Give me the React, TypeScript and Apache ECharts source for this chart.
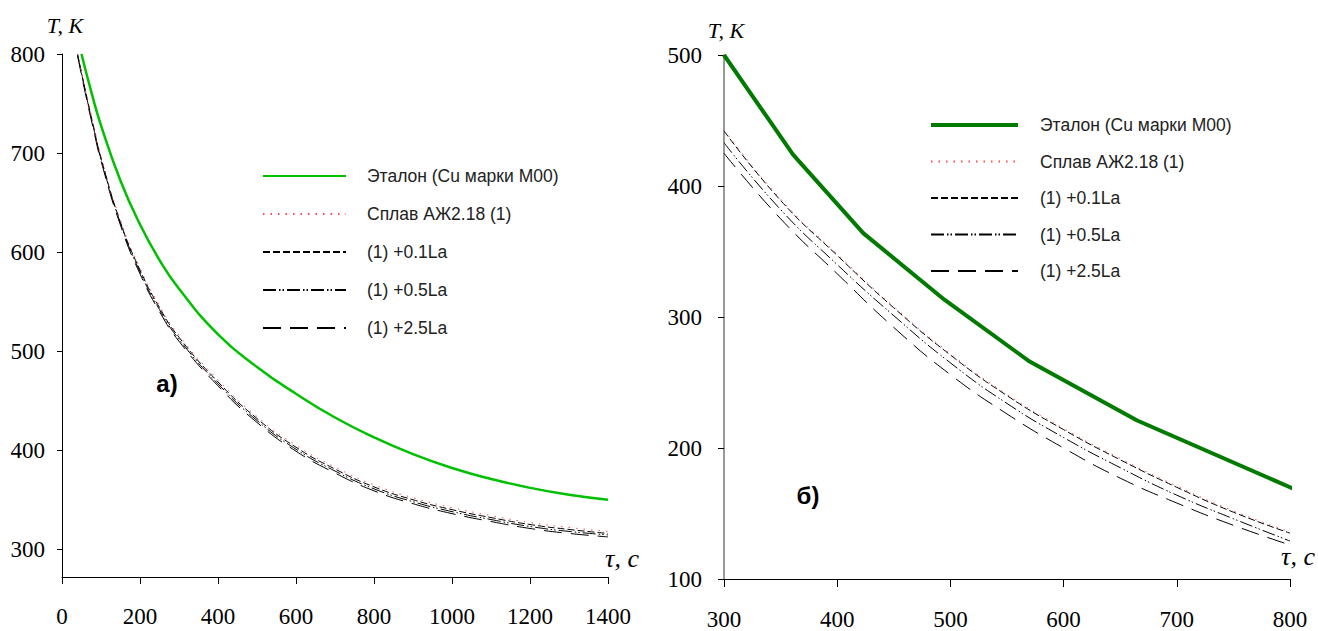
import React, { useEffect, useRef } from "react";
import * as echarts from "echarts";

// ---- names ----
const seriesNames = [
  "Эталон (Cu марки М00)",
  "Сплав АЖ2.18 (1)",
  "(1) +0.1La",
  "(1) +0.5La",
  "(1) +2.5La",
];

// ---- chart а) ----
const tauEtalonA = [50, 75, 100, 150, 200, 250, 300, 400, 500, 600, 700, 800, 900, 1000, 1100, 1200, 1300, 1400];
const etalonA = [800, 762, 728, 672, 628, 592, 563, 517, 484, 457, 433, 413, 396, 382, 371, 362, 355, 350];

const tauAlloyA = [40, 60, 80, 100, 150, 200, 250, 300, 400, 500, 600, 700, 800, 900, 1000, 1100, 1200, 1300, 1400];
const splavA = [800, 764, 730, 697, 632, 584, 546, 516, 471, 434, 405, 383, 365, 352, 342, 334, 327, 322, 318];
const la01A = [799, 763, 728, 695, 630, 582, 544, 514, 469, 432, 403, 381, 363, 350, 340, 332, 325, 320, 316];
const la05A = [800, 762, 727, 694, 629, 580, 542, 512, 467, 430, 401, 379, 361, 348, 338, 330, 323, 318, 314.5];
const la25A = [798, 760, 725, 692, 627, 578, 540, 510, 465, 428, 399, 377, 359, 346, 336, 328, 321, 316, 312.5];

const yTicksA = [300, 400, 500, 600, 700, 800];

// ---- chart б) ----
const tauEtalonB = [300, 361, 423, 495, 570, 665, 808];
const etalonB = [500, 424, 364, 313, 266, 221, 167];

const tauAlloyB = [300, 350, 400, 450, 500, 550, 600, 650, 700, 750, 800];
const splavB = [443, 390, 348, 308, 272, 241, 215, 192, 171, 152, 136];
const la01B = [442, 389, 347, 307, 271, 240, 214, 191, 170, 151, 135];
const la05B = [433, 382, 340, 301, 265, 234, 208, 185, 164, 146, 129];
const la25B = [425, 375, 333, 292, 256, 226, 200, 177, 158, 141, 126];

const pairs = (xs: number[], ys: number[]) => xs.map((x, i) => [x, ys[i]]);

const TICK_FONT = '"Liberation Serif", serif';
const LEG_FONT = '"Liberation Sans", sans-serif';

const dashStyles: any[] = [
  null,
  { color: "#ff4d4d", width: 1, type: [1.5, 6] },
  { color: "#000", width: 1, type: [7, 3] },
  { color: "#000", width: 1, type: [13, 3, 1.5, 2, 1.5, 3] },
  { color: "#000", width: 1, type: [18, 9] },
];

export default function App() {
  const ref = useRef<HTMLDivElement>(null);
  useEffect(() => {
    if (!ref.current) return;
    const chart = echarts.init(ref.current, undefined, { renderer: "svg" });

    const axisLineBlack = { show: true, onZero: false, lineStyle: { color: "#000", width: 1 } };
    const labelStyle = {
      fontFamily: TICK_FONT,
      fontSize: 23,
      color: "#000",
      formatter: (v: number) => String(v),
    };

    const mkSeries = (
      idx: number,
      name: string,
      data: number[][],
      lineStyle: any,
      smooth: boolean,
      z: number,
      clip = true
    ) => ({
      type: "line",
      name,
      xAxisIndex: idx,
      yAxisIndex: idx,
      data,
      symbol: "none",
      showSymbol: false,
      smooth,
      lineStyle,
      itemStyle: { color: lineStyle.color },
      z,
      clip,
    });

    const legendCommon = {
      orient: "vertical",
      itemHeight: 14,
      padding: 0,
      selectedMode: false,
      itemStyle: { opacity: 0 },
    };

    const option: any = {
      animation: false,
      backgroundColor: "#fff",
      grid: [
        { left: 62, right: 710, top: 54, bottom: 54 },
        { left: 724, right: 28, top: 55, bottom: 51 },
      ],
      xAxis: [
        {
          type: "value",
          gridIndex: 0,
          min: 0,
          max: 1400,
          interval: 200,
          axisLine: axisLineBlack,
          axisTick: { show: true, length: 7, lineStyle: { color: "#000" } },
          splitLine: { show: false },
          axisLabel: { ...labelStyle, margin: 28 },
        },
        {
          type: "value",
          gridIndex: 1,
          min: 300,
          max: 800,
          interval: 100,
          axisLine: axisLineBlack,
          axisTick: { show: true, length: 8, lineStyle: { color: "#000" } },
          splitLine: { show: false },
          axisLabel: { ...labelStyle, margin: 29 },
        },
      ],
      yAxis: [
        {
          type: "value",
          gridIndex: 0,
          min: 272,
          max: 800,
          axisLine: axisLineBlack,
          axisTick: { show: true, length: 5, customValues: yTicksA, lineStyle: { color: "#000" } },
          splitLine: { show: false },
          axisLabel: { ...labelStyle, margin: 17, customValues: yTicksA },
        },
        {
          type: "value",
          gridIndex: 1,
          min: 100,
          max: 500,
          interval: 100,
          axisLine: { show: true, onZero: false, lineStyle: { color: "#777", width: 1.5 } },
          axisTick: { show: true, length: 6, lineStyle: { color: "#000" } },
          splitLine: { show: false },
          axisLabel: { ...labelStyle, margin: 22 },
        },
      ],
      legend: [
        {
          ...legendCommon,
          left: 262,
          top: 167,
          itemWidth: 83,
          itemGap: 20,
          textStyle: { fontFamily: LEG_FONT, fontSize: 17.5, color: "#222", padding: [0, 0, 0, 16] },
          data: seriesNames.map((n) => ({ name: n })),
        },
        {
          ...legendCommon,
          left: 929,
          top: 116,
          itemWidth: 87,
          itemGap: 18.5,
          textStyle: { fontFamily: LEG_FONT, fontSize: 17.5, color: "#222", padding: [0, 0, 0, 17] },
          data: seriesNames.map((n, i) =>
            i === 0
              ? { name: n, lineStyle: { color: "#007a00", width: 4 }, itemStyle: { color: "#007a00", opacity: 0 } }
              : { name: n }
          ),
        },
      ],
      series: [
        mkSeries(0, seriesNames[0], pairs(tauEtalonA, etalonA), { color: "#00c000", width: 2.5 }, true, 3),
        mkSeries(0, seriesNames[2], pairs(tauAlloyA, la01A), dashStyles[2], true, 2),
        mkSeries(0, seriesNames[3], pairs(tauAlloyA, la05A), dashStyles[3], true, 2),
        mkSeries(0, seriesNames[4], pairs(tauAlloyA, la25A), dashStyles[4], true, 2),
        mkSeries(0, seriesNames[1], pairs(tauAlloyA, splavA), dashStyles[1], true, 4),
        mkSeries(1, seriesNames[0], pairs(tauEtalonB, etalonB), { color: "#007a00", width: 4 }, false, 3, false),
        mkSeries(1, seriesNames[2], pairs(tauAlloyB, la01B), dashStyles[2], true, 2),
        mkSeries(1, seriesNames[3], pairs(tauAlloyB, la05B), dashStyles[3], true, 2),
        mkSeries(1, seriesNames[4], pairs(tauAlloyB, la25B), dashStyles[4], true, 2),
        mkSeries(1, seriesNames[1], pairs(tauAlloyB, splavB), dashStyles[1], true, 4),
      ],
      graphic: [
        {
          type: "text",
          x: 65,
          y: 25,
          style: { text: "T, K", font: 'italic 22px "Liberation Serif", serif', fill: "#000", align: "center", verticalAlign: "middle" },
        },
        {
          type: "text",
          x: 726,
          y: 30,
          style: { text: "T, K", font: 'italic 22px "Liberation Serif", serif', fill: "#000", align: "center", verticalAlign: "middle" },
        },
        {
          type: "text",
          x: 622,
          y: 558,
          style: { text: "τ, c", font: 'italic 26px "Liberation Serif", serif', fill: "#000", align: "center", verticalAlign: "middle" },
        },
        {
          type: "text",
          x: 1298,
          y: 556,
          style: { text: "τ, c", font: 'italic 26px "Liberation Serif", serif', fill: "#000", align: "center", verticalAlign: "middle" },
        },
        {
          type: "text",
          x: 167,
          y: 383,
          style: { text: "а)", font: 'bold 24px "Liberation Sans", sans-serif', fill: "#000", align: "center", verticalAlign: "middle" },
        },
        {
          type: "text",
          x: 808,
          y: 495,
          style: { text: "б)", font: 'bold 24px "Liberation Sans", sans-serif', fill: "#000", align: "center", verticalAlign: "middle" },
        },
      ],
    };

    chart.setOption(option);
    return () => chart.dispose();
  }, []);

  return (
    <div
      ref={ref}
      style={{ position: "fixed", left: 0, top: 0, width: 1318, height: 631, background: "#fff" }}
    />
  );
}
